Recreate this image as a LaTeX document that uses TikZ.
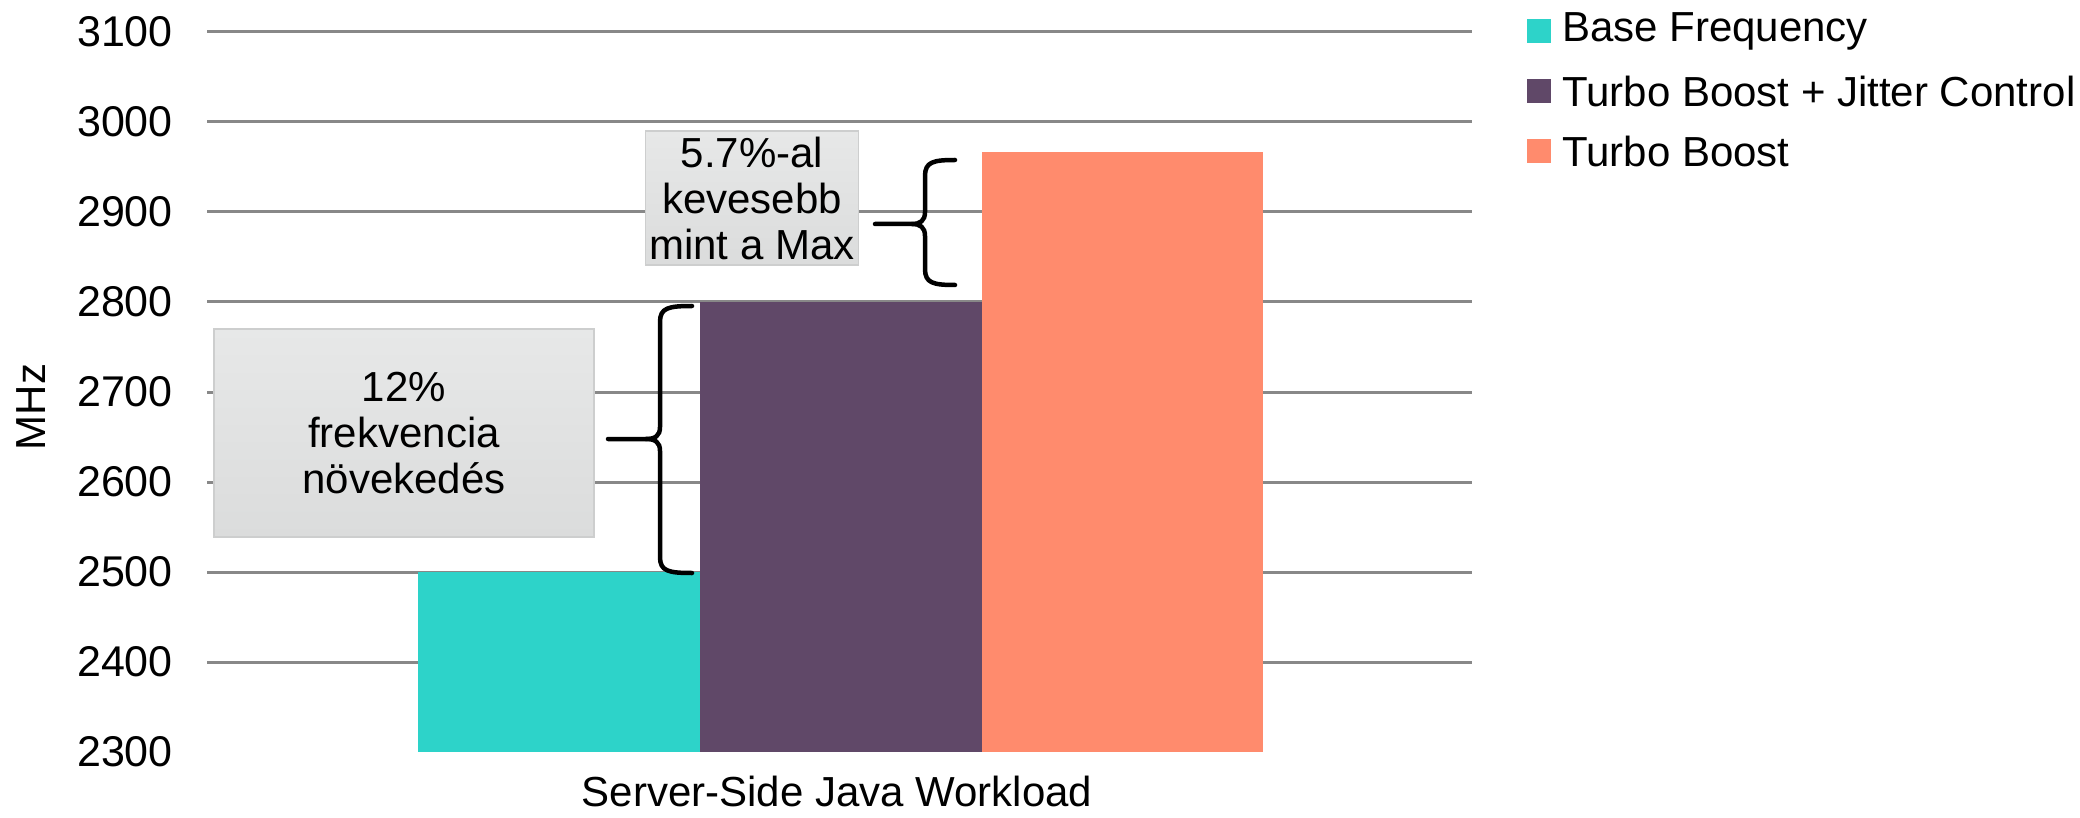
\documentclass[tikz,border=0pt]{standalone}
\usepackage{fontspec}
\setmainfont{Liberation Sans}
\definecolor{cyanbar}{RGB}{45,211,201}
\definecolor{purplebar}{RGB}{96,72,104}
\definecolor{orangebar}{RGB}{255,139,109}
\definecolor{gridgray}{RGB}{136,136,136}
\definecolor{boxtop}{RGB}{231,232,232}
\definecolor{boxbot}{RGB}{219,220,220}
\definecolor{boxborder}{RGB}{205,206,206}
\begin{document}
\begin{tikzpicture}[x=1pt,y=-1pt,
  grid/.style={draw=gridgray, line width=3pt},
  lbl/.style={font=\fontsize{42}{46}\selectfont, inner sep=0pt},
  tick/.style={font=\fontsize{43}{46}\selectfont, inner sep=0pt, anchor=east},
  note/.style={draw=boxborder, line width=1.5pt, top color=boxtop, bottom color=boxbot,
    align=center, inner sep=0pt, font=\fontsize{42}{46}\selectfont},
  brc/.style={line width=4.5pt, line cap=round, line join=round},
  key/.style={minimum size=24pt, inner sep=0pt}
]
\useasboundingbox (0,0) rectangle (2080,818);
% gridlines
\foreach \v/\yy in {3100/32,3000/122,2900/212,2800/302,2700/392,2600/482,2500/572,2400/662}{
  \draw[grid] (207,\yy) -- (1472,\yy);
}
% tick labels
\foreach \v/\yy in {3100/32,3000/122,2900/212,2800/302,2700/392,2600/482,2500/572,2400/662,2300/752}{
  \node[tick] (t\v) at (173,\yy) {\v};
}
\node[lbl, rotate=90] (axis) at (31,407) {MHz};
% bars
\fill[cyanbar] (418,572) rectangle (700,752);
\fill[purplebar] (700,302) rectangle (982,752);
\fill[orangebar] (982,152) rectangle (1263,752);
% notes
\node[note, minimum width=380pt, minimum height=208pt] (n1) at (404,433)
  {12\%\\frekvencia\\növekedés};
\node[note, minimum width=213pt, minimum height=134pt] (n2) at (752,198)
  {5.7\%-al\\kevesebb\\mint a Max};
% brace 1
\coordinate (b1t) at (692,306); \coordinate (b1b) at (692,573);
\coordinate (b1m) at (608,439); \coordinate (b1s) at (646,439);
\draw[brc] (b1t) .. controls (668,306) and (660,308) .. (660,322) -- (660,427)
  .. controls (660,436) and (655,439) .. (b1s) -- (b1m);
\draw[brc] (b1s) .. controls (655,439) and (660,442) .. (660,451) -- (660,557)
  .. controls (660,571) and (668,573) .. (b1b);
% brace 2
\coordinate (b2t) at (955,160); \coordinate (b2b) at (955,285);
\coordinate (b2m) at (875,224); \coordinate (b2s) at (912,224);
\draw[brc] (b2t) .. controls (933,160) and (925,162) .. (925,176) -- (925,212)
  .. controls (925,221) and (920,224) .. (b2s) -- (b2m);
\draw[brc] (b2s) .. controls (920,224) and (925,227) .. (925,236) -- (925,269)
  .. controls (925,283) and (933,285) .. (b2b);
% legend
\node[key, fill=cyanbar] (k1) at (1539,31) {};
\node[key, fill=purplebar] (k2) at (1539,91) {};
\node[key, fill=orangebar] (k3) at (1539,151) {};
\node[lbl, anchor=west] (l1) at (1562,31) {Base Frequency};
\node[lbl, anchor=west] (l2) at (1562,91) {Turbo Boost + Jitter Control};
\node[lbl, anchor=west] (l3) at (1562,151) {Turbo Boost};
% category label
\node[lbl, anchor=base] (cat) at (837,806) {Server-Side Java Workload};
\end{tikzpicture}
\end{document}
